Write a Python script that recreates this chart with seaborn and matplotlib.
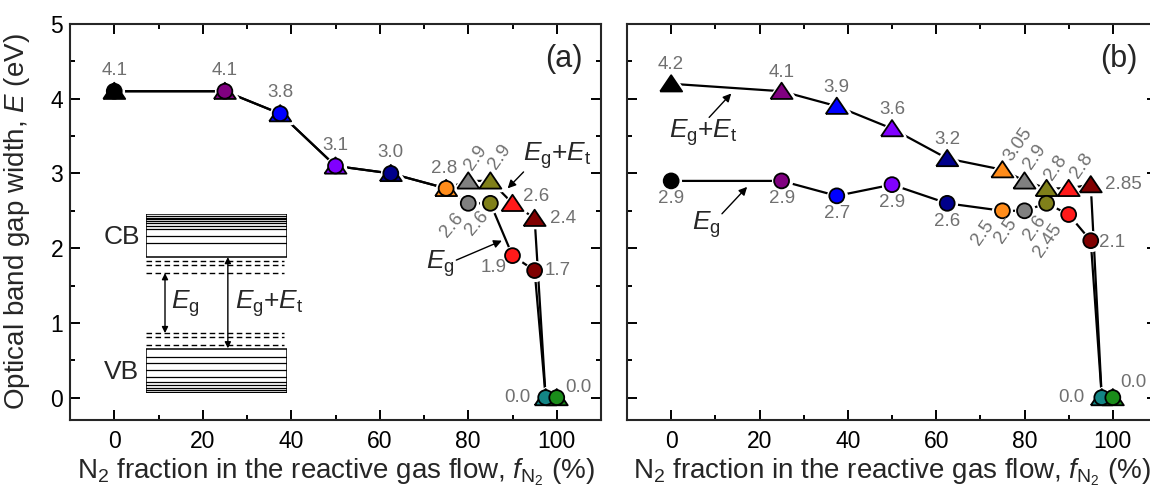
import matplotlib
matplotlib.use("Agg")
import matplotlib.pyplot as plt
from matplotlib.patches import Rectangle
from matplotlib.ticker import MultipleLocator
import pandas as pd
import seaborn as sns

# ---------------- data ----------------
fn2 = [0, 25, 37.5, 50, 62.5, 75, 80, 85, 90, 95, 97.5, 100]
point_colors = ['#000000', '#800080', '#0000ff', '#8000ff', '#00008b', '#ff8c1a',
                '#808080', '#80801a', '#ff1a1a', '#800000', '#138585', '#1a8c1a']

a_eget = [4.1, 4.1, 3.8, 3.1, 3.0, 2.8, 2.9, 2.9, 2.6, 2.4, 0.0, 0.0]
a_eg = [4.1, 4.1, 3.8, 3.1, 3.0, 2.8, 2.6, 2.6, 1.9, 1.7, 0.0, 0.0]
a_eget_labels = ["4.1", "4.1", "3.8", "3.1", "3.0", "2.8", "2.9", "2.9", "2.6", "2.4", "", ""]
a_eg_labels = ["", "", "", "", "", "", "2.6", "2.6", "1.9", "1.7", "0.0", "0.0"]

b_eget = [4.2, 4.1, 3.9, 3.6, 3.2, 3.05, 2.9, 2.8, 2.8, 2.85, 0.0, 0.0]
b_eg = [2.9, 2.9, 2.7, 2.85, 2.6, 2.5, 2.5, 2.6, 2.45, 2.1, 0.0, 0.0]
b_eget_labels = ["4.2", "4.1", "3.9", "3.6", "3.2", "3.05", "2.9", "2.8", "2.8", "2.85", "", ""]
b_eg_labels = ["2.9", "2.9", "2.7", "2.9", "2.6", "2.5", "2.5", "2.6", "2.45", "2.1", "0.0", "0.0"]

x_ticks = [0, 20, 40, 60, 80, 100]
y_ticks = [0, 1, 2, 3, 4, 5]

# label offsets in pixels (dx, dy up, rotation)
a_t_off = [(0, 21, 0), (0, 21, 0), (0, 21, 0), (0, 20, 0), (0, 21, 0), (-2, 20, 0),
           (8, 23, 55), (9, 24, 55), (24, 7, 0), (28, 0, 0), (0, 0, 0), (0, 0, 0)]
a_c_off = [(0, 0, 0)] * 6 + [(-16, -22, 50), (-13, -20, 50), (-19, -12, 0), (23, 0, 0),
                             (-28, 0, 0), (22, 10, 0)]
b_t_off = [(0, 19, 0)] * 5 + [(16, 25, 55), (10, 24, 55), (9, 21, 55), (13, 23, 55),
                              (33, 0, 0), (0, 0, 0), (0, 0, 0)]
b_c_off = [(0, -18, 0)] * 5 + [(-20, -22, 55), (-19, -20, 55), (-12, -24, 55),
                               (-21, -26, 55), (21, -2, 0), (-30, 0, 0), (21, 15, 0)]

# ---------------- style ----------------
sns.set_style("ticks")
plt.rcParams['font.family'] = ['Liberation Sans', 'DejaVu Sans']
plt.rcParams['mathtext.fontset'] = 'custom'
plt.rcParams['mathtext.rm'] = 'Liberation Sans'
plt.rcParams['mathtext.it'] = 'Liberation Sans:italic'
plt.rcParams['mathtext.bf'] = 'Liberation Sans:bold'

LABEL_GRAY = '#707070'
TRI = [(-1, -0.7), (1, -0.7), (0, 0.78), (-1, -0.7)]
S_TRI = 250
S_CIR = 115
PX = 0.72  # points per pixel at 100 dpi
FS_TICK = 16.5
FS_XAXIS = 20
FS_YAXIS = 20
FS_VAL = 13.5
FS_ANN = 19

fig = plt.figure(figsize=(11.5, 4.9), dpi=100)
ax_a = fig.add_axes([70 / 1150, 70 / 490, 531 / 1150, 396 / 490])
ax_b = fig.add_axes([627 / 1150, 70 / 490, 530 / 1150, 396 / 490])


def draw_panel(ax, y_t, y_c, lab_t, lab_c, off_t, off_c):
    df_t = pd.DataFrame({"f": fn2, "E": y_t, "c": point_colors})
    df_c = pd.DataFrame({"f": fn2, "E": y_c, "c": point_colors})
    pal = dict(zip(point_colors, point_colors))
    for df in (df_t, df_c):
        sns.lineplot(data=df, x="f", y="E", color="black", linewidth=1.6,
                     estimator=None, sort=False, ax=ax, zorder=1)
    # white halos create the small gap between lines and symbols
    sns.scatterplot(data=df_t, x="f", y="E", marker=TRI, s=S_TRI, color="white",
                    edgecolor="white", linewidth=4.5, ax=ax, zorder=2, legend=False)
    sns.scatterplot(data=df_c, x="f", y="E", marker="o", s=S_CIR, color="white",
                    edgecolor="white", linewidth=4.5, ax=ax, zorder=2, legend=False)
    sns.scatterplot(data=df_t, x="f", y="E", hue="c", palette=pal, marker=TRI, s=S_TRI,
                    edgecolor="black", linewidth=1.3, ax=ax, zorder=3, legend=False)
    sns.scatterplot(data=df_c, x="f", y="E", hue="c", palette=pal, marker="o", s=S_CIR,
                    edgecolor="black", linewidth=1.3, ax=ax, zorder=4, legend=False)
    for ys, labs, offs in ((y_t, lab_t, off_t), (y_c, lab_c, off_c)):
        for xv, yv, lab, (dx, dy, rot) in zip(fn2, ys, labs, offs):
            if lab:
                ax.annotate(lab, (xv, yv), xytext=(dx * PX, dy * PX),
                            textcoords="offset points", ha="center", va="center",
                            rotation=rot, color=LABEL_GRAY, fontsize=FS_VAL, zorder=5)


draw_panel(ax_a, a_eget, a_eg, a_eget_labels, a_eg_labels, a_t_off, a_c_off)
draw_panel(ax_b, b_eget, b_eg, b_eget_labels, b_eg_labels, b_t_off, b_c_off)

EGET = r"$E_{\mathrm{g}}$+$E_{\mathrm{t}}$"
EG = r"$E_{\mathrm{g}}$"
arrow = dict(arrowstyle="-|>", color="black", lw=1.0, mutation_scale=12,
             shrinkA=0, shrinkB=0)

# panel (a) annotations
ax_a.annotate("", xy=(88.9, 2.80), xytext=(92.5, 3.02), arrowprops=arrow)
ax_a.text(92.3, 3.24, EGET, fontsize=FS_ANN, ha="left", va="center")
ax_a.annotate("", xy=(87.6, 2.10), xytext=(77.3, 1.84), arrowprops=arrow)
ax_a.text(73.6, 1.79, EG, fontsize=FS_ANN, ha="center", va="center")
ax_a.text(0.93, 0.912, "(a)", transform=ax_a.transAxes, fontsize=22,
          ha="center", va="center")

# panel (b) annotations
ax_b.annotate("", xy=(13.6, 4.07), xytext=(8.6, 3.75), arrowprops=arrow)
ax_b.text(7.2, 3.55, EGET, fontsize=FS_ANN, ha="center", va="center")
ax_b.annotate("", xy=(17.2, 2.82), xytext=(11.5, 2.46), arrowprops=arrow)
ax_b.text(7.9, 2.31, EG, fontsize=FS_ANN, ha="center", va="center")
ax_b.text(0.928, 0.912, "(b)", transform=ax_b.transAxes, fontsize=22,
          ha="center", va="center")

# band diagram inset in panel (a)
ins = ax_a.inset_axes([0.143, 0.068, 0.266, 0.452])
ins.set_xlim(0, 1)
ins.set_ylim(0, 1)
ins.axis("off")
ins.add_patch(Rectangle((0, 0.76), 1, 0.24, fill=False, lw=1.1, ec="black"))
ins.add_patch(Rectangle((0, 0.0), 1, 0.246, fill=False, lw=1.1, ec="black"))
cb_lines = [0.989, 0.980, 0.971, 0.960, 0.949, 0.934, 0.916, 0.880, 0.841]
vb_lines = [0.203, 0.166, 0.128, 0.091, 0.063, 0.045, 0.030, 0.017, 0.008]
for yy in cb_lines + vb_lines:
    ins.plot([0, 1], [yy, yy], color="black", lw=0.9)
for yy in [0.737, 0.715, 0.670, 0.335, 0.313, 0.268]:
    ins.plot([0, 0.98], [yy, yy], color="black", lw=1.0, dashes=(4, 2.5))
darrow = dict(arrowstyle="<|-|>", color="black", lw=1.0, mutation_scale=9,
              shrinkA=0, shrinkB=0)
ins.annotate("", xy=(0.135, 0.335), xytext=(0.135, 0.670), arrowprops=darrow)
ins.annotate("", xy=(0.58, 0.250), xytext=(0.58, 0.760), arrowprops=darrow)
ins.text(0.28, 0.50, EG, fontsize=FS_ANN, ha="center", va="center")
ins.text(0.87, 0.50, EGET, fontsize=FS_ANN, ha="center", va="center")
ins.text(-0.17, 0.87, "CB", fontsize=19, ha="center", va="center")
ins.text(-0.17, 0.12, "VB", fontsize=19, ha="center", va="center")

# axes formatting
for ax in (ax_a, ax_b):
    ax.set_xlim(-10, 110)
    ax.set_ylim(-0.3, 5)
    ax.set_xticks(x_ticks)
    ax.set_yticks(y_ticks)
    ax.xaxis.set_minor_locator(MultipleLocator(10))
    ax.yaxis.set_minor_locator(MultipleLocator(0.5))
    ax.tick_params(which="both", direction="in", top=True, right=True,
                   width=1.4, labelsize=FS_TICK, colors="black")
    ax.tick_params(which="major", length=7)
    ax.tick_params(which="minor", length=3.6)
    ax.tick_params(axis="x", which="major", pad=7)
    ax.tick_params(axis="y", which="major", pad=5)
    for sp in ax.spines.values():
        sp.set_linewidth(1.5)
        sp.set_visible(True)
    ax.set_xlabel(r"$\mathrm{N_2}$ fraction in the reactive gas flow, $f_{\mathrm{N_2}}$ (%)",
                  fontsize=FS_XAXIS)
    ax.set_ylabel("")

ax_a.xaxis.set_label_coords(0.5, -0.093)
ax_b.xaxis.set_label_coords(0.5, -0.093)
ax_a.set_ylabel(r"Optical band gap width, $E$ (eV)", fontsize=FS_YAXIS)
ax_a.yaxis.set_label_coords(-0.072, 0.5)
ax_b.tick_params(labelleft=False)

fig.savefig("out.png", dpi=100)
